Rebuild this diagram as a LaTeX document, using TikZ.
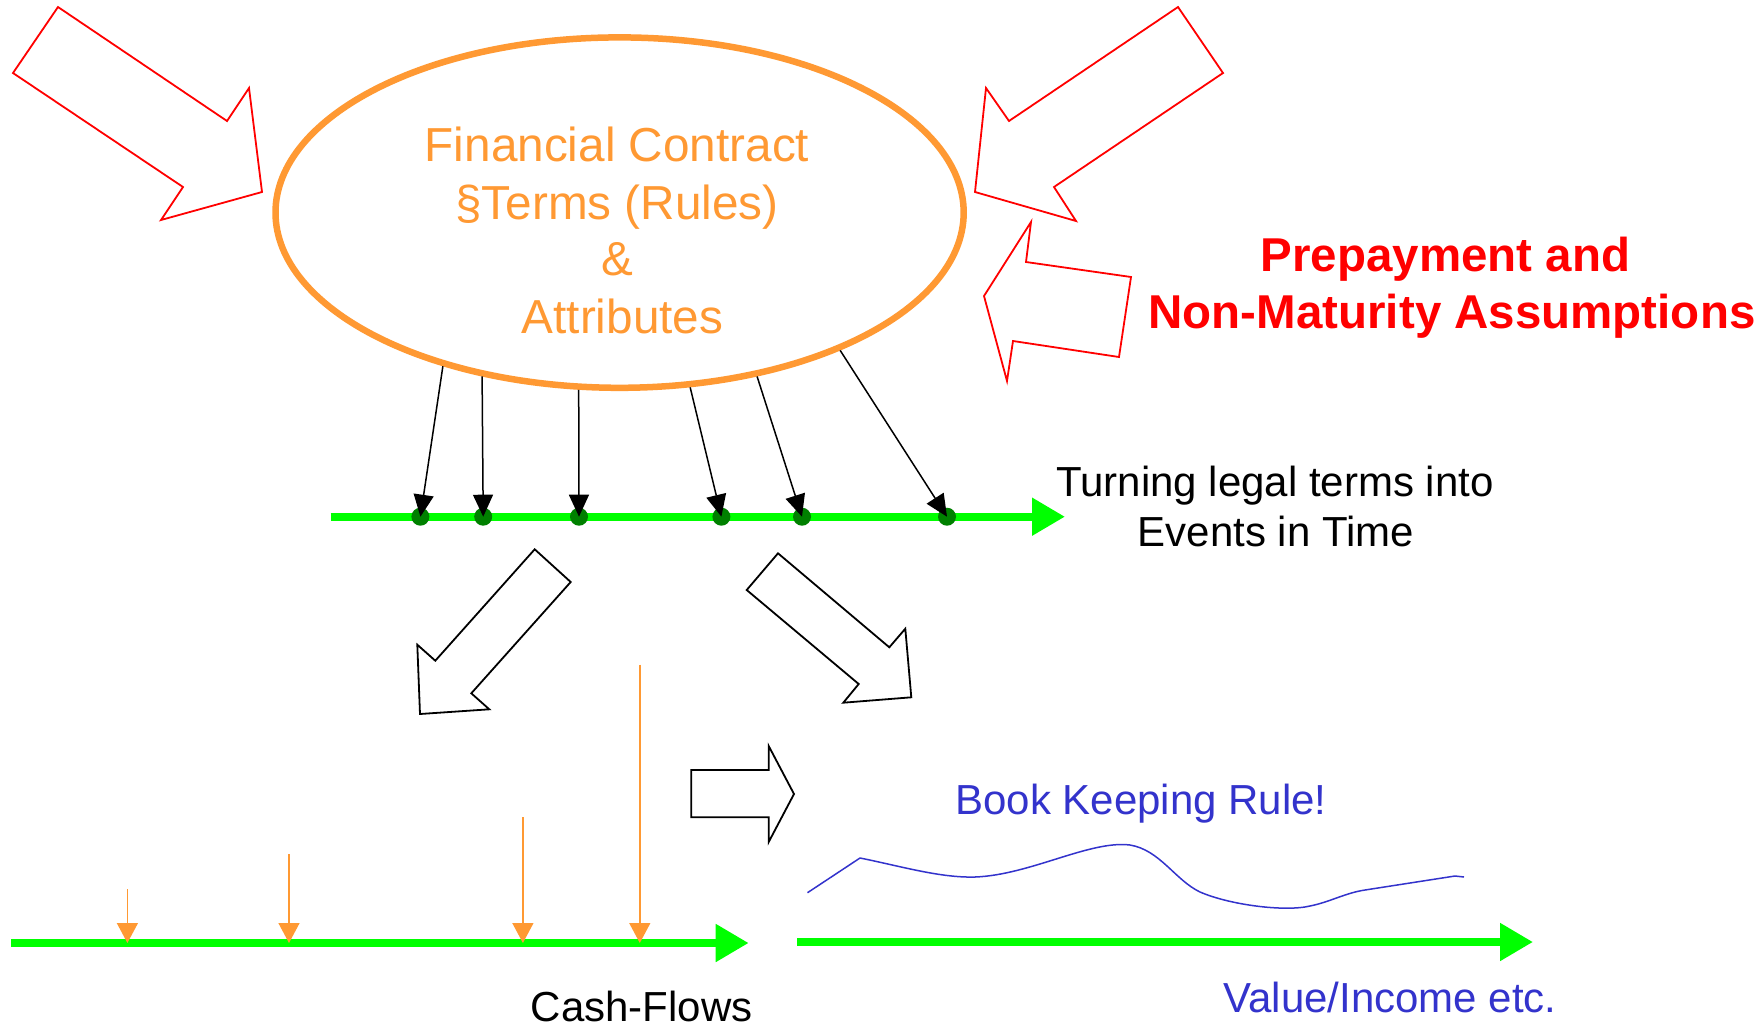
\documentclass[tikz,border=0pt]{standalone}
\usepackage{fontspec}
\setmainfont{Liberation Sans}
\usetikzlibrary{arrows.meta,shapes.geometric}
\definecolor{contractorange}{RGB}{255,153,51}
\definecolor{timegreen}{RGB}{0,255,0}
\definecolor{eventgreen}{RGB}{0,128,0}
\definecolor{assumptionred}{RGB}{255,0,0}
\definecolor{bookblue}{RGB}{51,51,204}
\begin{document}
\begin{tikzpicture}[x=1pt,y=-1pt,
  txt/.style={inner sep=0pt, anchor=base, font=\fontsize{42}{50}\selectfont},
  contracttxt/.style={inner sep=0pt, anchor=base, text=contractorange, font=\fontsize{47.7}{57}\selectfont},
  assumptiontxt/.style={inner sep=0pt, anchor=base, text=assumptionred, font=\fontsize{47.5}{57}\bfseries\selectfont},
  timeline/.style={draw=timegreen, line width=8pt, -{Triangle[length=33pt,width=36pt]}},
  event/.style={circle, fill=eventgreen, minimum size=18pt, inner sep=0pt},
  eventarrow/.style={draw=black, line width=1.5pt, -{Triangle[length=22pt,width=20pt]}},
  cashflow/.style={draw=contractorange, line width=1.5pt, -{Triangle[length=20pt,width=21pt]}},
  assumption/.style={draw=assumptionred, line width=1.8pt, line join=miter},
  hollow/.style={draw=black, line width=1.8pt, line join=miter},
]
\fill[white] (0,0) rectangle (1757,1026);
\useasboundingbox (0,0) rectangle (1757,1026);

% contract ellipse and its text
\node[ellipse, draw=contractorange, line width=6.5pt, minimum width=688.2pt,
      minimum height=350.4pt, inner sep=0pt] (contract) at (619.6,212.6) {};
\node[contracttxt] (fc) at (617,161.7) {Financial Contract};
\node[contracttxt] (terms) at (617,219) {§Terms (Rules)};
\node[contracttxt] (amp) at (617,275) {\&};
\node[contracttxt] (attr) at (622.5,333.3) {Attributes};

% red input arrows
\draw[assumption] (58,7) -- (227,121) -- (249,88) -- (262,192) -- (161,220)
  -- (183,187) -- (13,73) -- cycle;
\draw[assumption] (1178,7) -- (1223,73) -- (1054,187) -- (1076,221) -- (975,192)
  -- (986,88) -- (1009,121) -- cycle;
\draw[assumption] (1031,222) -- (1026,262) -- (1131,277) -- (1119,357)
  -- (1013,341) -- (1007,381) -- (984,296) -- cycle;
\node[assumptiontxt] (prep) at (1445.6,271.7) {Prepayment and};
\node[assumptiontxt] (nonmat) at (1452,328.3) {Non-Maturity Assumptions};

% event timeline
\coordinate (evstart) at (330.6,516.7);
\coordinate (evend) at (1065,516.7);
\draw[timeline] (evstart) -- (evend);
\node[event] (e1) at (420.4,516.7) {};
\node[event] (e2) at (483.2,516.7) {};
\node[event] (e3) at (579,516.7) {};
\node[event] (e4) at (721.4,516.7) {};
\node[event] (e5) at (802,516.7) {};
\node[event] (e6) at (947,516.7) {};
\draw[eventarrow] (contract.221.8) -- (e1.center);
\draw[eventarrow] (contract.230.1) -- (e2.center);
\draw[eventarrow] (contract.257.1) -- (e3.center);
\draw[eventarrow] (contract.292.4) -- (e4.center);
\draw[eventarrow] (contract.310.1) -- (e5.center);
\draw[eventarrow] (contract.328.6) -- (e6.center);
\node[txt] (turn1) at (1275,496.7) {Turning legal terms into};
\node[txt] (turn2) at (1276,546.7) {Events in Time};

% hollow black arrows
\draw[hollow] (534.7,549.3) -- (570.7,582) -- (471.3,693.3) -- (489.3,709.3)
  -- (420,714) -- (417.3,644.7) -- (435.3,660.7) -- cycle;
\draw[hollow] (778,553.3) -- (889.3,647.3) -- (905.3,628.7) -- (911.3,697.3)
  -- (843.3,702.7) -- (858.7,684) -- (746.7,590) -- cycle;
\draw[hollow] (691.3,770) -- (768.7,770) -- (768.7,746) -- (794,794)
  -- (768.7,842) -- (768.7,817.3) -- (691.3,817.3) -- cycle;

% cash-flow timeline
\coordinate (cfstart) at (11,943);
\coordinate (cfend) at (748.7,943);
\draw[timeline] (cfstart) -- (cfend);
\coordinate (cf1top) at (127.4,889);
\coordinate (cf1) at (127.4,943);
\coordinate (cf2top) at (289,854.3);
\coordinate (cf2) at (289,943);
\coordinate (cf3top) at (522.9,817.3);
\coordinate (cf3) at (522.9,943);
\coordinate (cf4top) at (639.8,664.5);
\coordinate (cf4) at (639.8,943);
\draw[cashflow] (cf1top) -- (cf1);
\draw[cashflow] (cf2top) -- (cf2);
\draw[cashflow] (cf3top) -- (cf3);
\draw[cashflow] (cf4top) -- (cf4);
\node[txt] (cash) at (641.8,1021) {Cash-Flows};

% value timeline
\coordinate (valstart) at (797,942);
\coordinate (valend) at (1533,942);
\draw[timeline] (valstart) -- (valend);
\draw[bookblue, line width=1.5pt, line join=round]
  (807.5,892.7) -- (860,858)
  .. controls (900,866) and (940,878) .. (975,877)
  .. controls (1030,875) and (1090,840) .. (1130,845)
  .. controls (1160,850) and (1175,880) .. (1200,892)
  .. controls (1230,905) and (1285,912) .. (1310,906)
  .. controls (1330,902) and (1345,893) .. (1365,890)
  -- (1455,876) -- (1464,877);
\node[txt, text=bookblue] (rule) at (1141,814) {Book Keeping Rule!};
\node[txt, text=bookblue] (value) at (1390,1012.7) {Value/Income etc.};
\end{tikzpicture}
\end{document}
